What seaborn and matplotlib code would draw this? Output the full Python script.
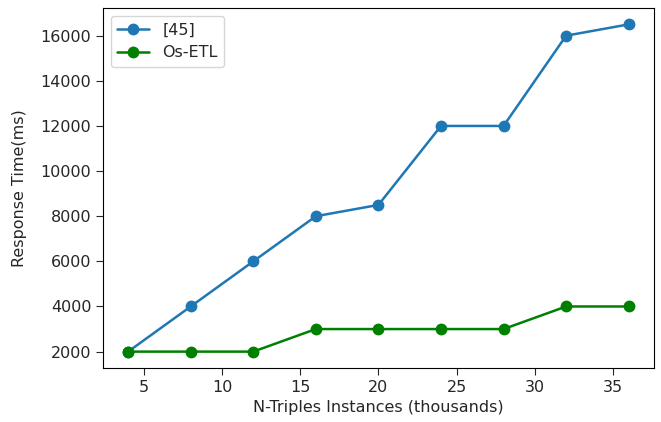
import matplotlib
matplotlib.use("Agg")
import matplotlib.pyplot as plt
import seaborn as sns
import pandas as pd

x_vals = [4, 8, 12, 16, 20, 24, 28, 32, 36]
ref45 = [2000, 4000, 6000, 8000, 8500, 12000, 12000, 16000, 16500]
osetl = [2000, 2000, 2000, 3000, 3000, 3000, 3000, 4000, 4000]
series_names = ["[45]", "Os-ETL"]

df = pd.DataFrame({
    "x": x_vals * 2,
    "y": ref45 + osetl,
    "series": [series_names[0]] * len(x_vals) + [series_names[1]] * len(x_vals),
})

sns.set_style("ticks")
plt.rcParams['font.family'] = ['DejaVu Sans']
fs = 11.5
fig = plt.figure(figsize=(6.61, 4.22), dpi=100)
ax = fig.add_axes([0.156, 0.128, 0.833, 0.853])
sns.lineplot(data=df, x="x", y="y", hue="series", marker="o", markersize=8.5,
             markeredgewidth=0, palette=["#1f77b4", "green"], linewidth=1.8, ax=ax)
ax.set_xlabel("N-Triples Instances (thousands)", fontsize=fs, color="#262626")
ax.set_ylabel("Response Time(ms)", fontsize=fs, color="#262626", labelpad=10)
ax.set_yticks([2000, 4000, 6000, 8000, 10000, 12000, 14000, 16000])
ax.set_xticks([5, 10, 15, 20, 25, 30, 35])
ax.tick_params(labelsize=fs, labelcolor="#262626", length=5, width=0.8)
ax.legend(loc="upper left", fontsize=fs, title=None)
for s in ax.spines.values():
    s.set_color("black")
    s.set_linewidth(0.8)
fig.savefig("out.png", dpi=100, facecolor="white")
